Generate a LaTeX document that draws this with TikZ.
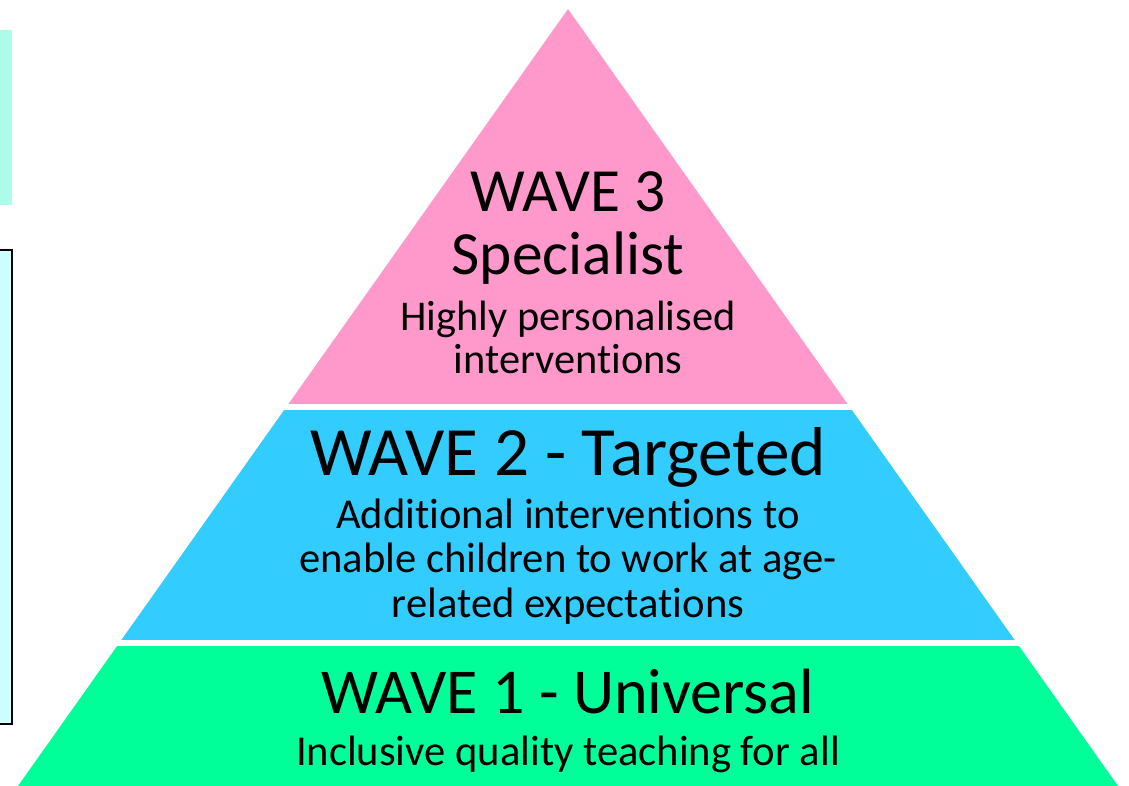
\documentclass[tikz,border=0pt]{standalone}
\usepackage{fontspec}
\setmainfont{Carlito}[Ligatures=NoCommon]
\definecolor{wavepink}{HTML}{FF99CC}
\definecolor{waveblue}{HTML}{33CCFF}
\definecolor{wavegreen}{HTML}{00FF99}
\definecolor{sidemint}{HTML}{AEFBEA}
\definecolor{sidecyan}{HTML}{CCFFFF}
\tikzset{
  wavetext/.style={font=\fontsize{#1}{#1}\selectfont, anchor=base, inner sep=0pt}
}
\begin{document}
\begin{tikzpicture}[x=0.5pt,y=-0.5pt]
    \useasboundingbox (0,0) rectangle (1129,786);
    % side panels
    \fill[sidemint] (0,30) rectangle (12,205);
    \draw[fill=sidecyan,line width=1pt] (-5,250) rectangle (12,724);
    % pyramid
    \coordinate (apex) at (568,9);
    \coordinate (bl) at (18,786);
    \coordinate (br) at (1118,786);
    \begin{scope}
        \clip (apex)--(bl)--(br)--cycle;
        \fill[wavepink] (0,0) rectangle (1129,404);
        \fill[waveblue] (0,410) rectangle (1129,640);
        \fill[wavegreen] (0,646) rectangle (1129,786);
    \end{scope}
    % wave 3
    \node[wavetext=30.7] (w3a) at (568,212) {WAVE 3};
    \node[wavetext=30.7] (w3b) at (568,275) {Specialist};
    \node[wavetext=21.2] (w3c) at (568,330) {Highly personalised};
    \node[wavetext=21.2] (w3d) at (568,373) {interventions};
    % wave 2
    \node[wavetext=34.6] (w2a) at (568,475) {WAVE 2 - Targeted};
    \node[wavetext=21.3] (w2b) at (568,528) {Additional interventions to};
    \node[wavetext=21.3] (w2c) at (568,572) {enable children to work at age-};
    \node[wavetext=21.3] (w2d) at (568,617) {related expectations};
    % wave 1
    \node[wavetext=32] (w1a) at (568,713) {WAVE 1 - Universal};
    \node[wavetext=21.3] (w1b) at (568,765) {Inclusive quality teaching for all};
\end{tikzpicture}
\end{document}
